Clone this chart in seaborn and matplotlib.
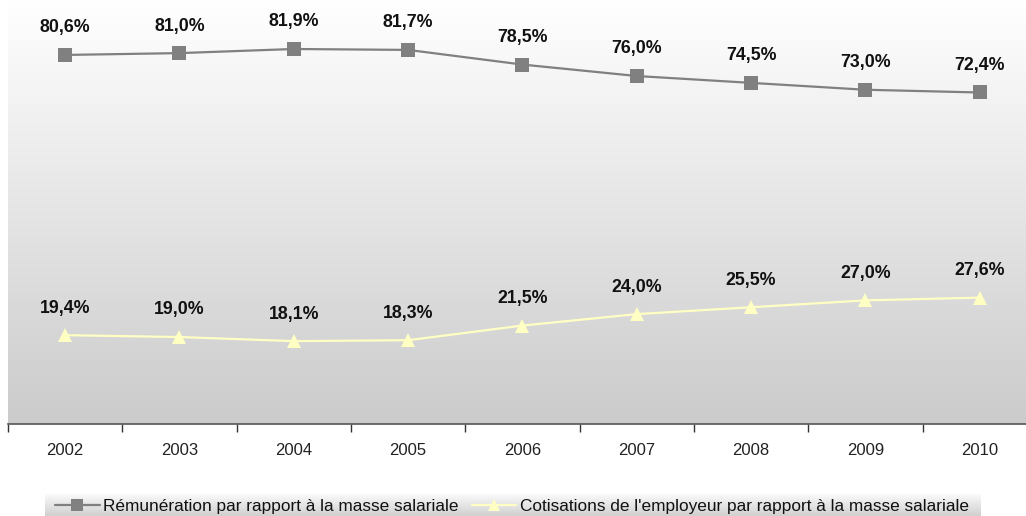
import numpy as np
import pandas as pd
import matplotlib
matplotlib.use("Agg")
import matplotlib.pyplot as plt
import seaborn as sns

years = ["2002", "2003", "2004", "2005", "2006", "2007", "2008", "2009", "2010"]
remuneration = [80.6, 81.0, 81.9, 81.7, 78.5, 76.0, 74.5, 73.0, 72.4]
cotisations = [19.4, 19.0, 18.1, 18.3, 21.5, 24.0, 25.5, 27.0, 27.6]
series_names = [
    "Rémunération par rapport à la masse salariale",
    "Cotisations de l'employeur par rapport à la masse salariale",
]

sns.set_theme(style="white")
plt.rcParams["font.family"] = ["Liberation Sans", "DejaVu Sans"]

df = pd.DataFrame({
    "pos": list(range(len(years))) * 2,
    "value": remuneration + cotisations,
    "serie": [series_names[0]] * len(years) + [series_names[1]] * len(years),
})

W, H = 1026, 516
fig = plt.figure(figsize=(W / 100, H / 100), dpi=100)

# plot area: category band of ~114 px, extends slightly past the right edge
left_px, right_px, bottom_px, top_px = 7.8, 1037.0, 424.0, 0.0
ax = fig.add_axes([left_px / W, 1 - bottom_px / H,
                   (right_px - left_px) / W, (bottom_px - top_px) / H])

# vertical gradient background
grad = np.linspace(0, 1, 256).reshape(-1, 1)
ax.imshow(grad, extent=[-0.5, 8.5, 0, 92.6], aspect="auto",
          cmap=matplotlib.colors.LinearSegmentedColormap.from_list(
              "bg", ["#cbcbcb", "#ffffff"]),
          origin="lower", zorder=0)

palette = {series_names[0]: "#808080", series_names[1]: "#ffffc4"}
markers = {series_names[0]: "s", series_names[1]: "^"}
sns.lineplot(data=df, x="pos", y="value", hue="serie", style="serie",
             palette=palette, markers=markers, dashes=False, linewidth=1.6,
             markersize=9.5, markeredgewidth=0, ax=ax, legend=False, zorder=3)

for vals in (remuneration, cotisations):
    for i, v in enumerate(vals):
        ax.annotate(f"{v:.1f}%".replace(".", ","), (i, v), xytext=(0, 19.5),
                    textcoords="offset points", ha="center", va="center",
                    fontsize=12.8, fontweight="bold", color="#111111", zorder=4)

ax.set_xlim(-0.5, 8.5)
ax.set_ylim(0, 92.6)
ax.set_xticks(range(len(years)))
ax.set_xticklabels(years, fontsize=12, color="#222222")
ax.set_xticks(np.arange(-0.5, 8.6, 1), minor=True)
ax.tick_params(axis="x", which="major", length=0, pad=14)
ax.tick_params(axis="x", which="minor", length=6, width=1, color="#333333",
               direction="out", bottom=True)
ax.set_yticks([])
ax.set_xlabel("")
ax.set_ylabel("")
for s in ("top", "right", "left"):
    ax.spines[s].set_visible(False)
ax.spines["bottom"].set_color("#555555")
ax.spines["bottom"].set_linewidth(1.2)

# legend band with its own gradient
lax = fig.add_axes([45 / W, 0, 935 / W, 22 / H])
lax.imshow(grad, extent=[0, 1, 0, 1], aspect="auto",
           cmap=matplotlib.colors.LinearSegmentedColormap.from_list(
               "lg", ["#d0d0d0", "#fafafa"]), origin="lower")
lax.set_axis_off()

handles = [
    matplotlib.lines.Line2D([], [], color="#808080", lw=1.6, marker="s",
                            markersize=9, markeredgewidth=0),
    matplotlib.lines.Line2D([], [], color="#ffffc4", lw=1.6, marker="^",
                            markersize=9, markeredgewidth=0),
]
fig.legend(handles, series_names, loc="center", ncol=2,
           bbox_to_anchor=(512 / W, 9.5 / H), frameon=False, fontsize=12.4,
           handlelength=2.6, handletextpad=0.2, columnspacing=0.75,
           labelcolor="#111111", borderpad=0.0)

fig.savefig("out.png", dpi=100)
